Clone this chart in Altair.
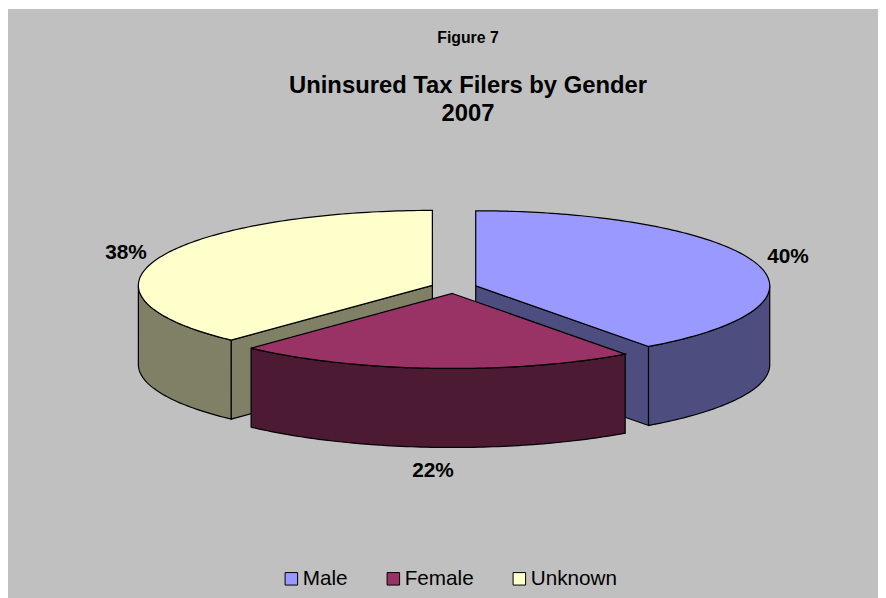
import numpy as np
import altair as alt

# values
categories = ["Male", "Female", "Unknown"]
shares = [40, 22, 38]
share_labels = ["40%", "22%", "38%"]
top_colors = ["#9999ff", "#993366", "#ffffcc"]
side_colors = ["#4d4d80", "#4d1a33", "#808066"]
figure_label = "Figure 7"
title_lines = ["Uninsured Tax Filers by Gender", "2007"]

# projection of the tilted pie (plot-area pixels through an identity projection)
CX, CY, RX, RY, DEPTH, EXPLODE = 445.8, 278.6, 294.0, 75.0, 79.0, 0.0784
STEP = 1.0


def rim(a0, a1, c):
    ang = np.radians(np.arange(a0, a1, STEP).tolist() + [a1])
    return [[float(c[0] + RX * np.sin(a)), float(c[1] - RY * np.cos(a))] for a in ang]


def drop(points):
    return [[p[0], p[1] + DEPTH] for p in points]


def feature(part, ring):
    ring = ring + [ring[0]]
    return {
        "type": "Feature",
        "properties": {"part": part},
        "geometry": {"type": "Polygon", "coordinates": [ring]},
    }


edges = np.concatenate([[0], np.cumsum(shares)]) / np.sum(shares) * 360.0
mids = (edges[:-1] + edges[1:]) / 2
centres = [
    (CX + EXPLODE * RX * np.sin(np.radians(m)), CY - EXPLODE * RY * np.cos(np.radians(m)))
    for m in mids
]

slices = {}
for i, name in enumerate(categories):
    a0, a1, c = edges[i], edges[i + 1], centres[i]
    slices[name] = dict(a0=float(a0), a1=float(a1), c=[float(c[0]), float(c[1])])


def top(name):
    s = slices[name]
    return feature(name, [s["c"]] + rim(s["a0"], s["a1"], s["c"]))


def wall(name, a0, a1):
    s = slices[name]
    r = rim(a0, a1, s["c"])
    return feature(name + " side", r + drop(r)[::-1])


def face(name, angle):
    s = slices[name]
    p = rim(angle, angle, s["c"])[0]
    return feature(name + " side", [s["c"], p, [p[0], p[1] + DEPTH], [s["c"][0], s["c"][1] + DEPTH]])


features = [
    face("Unknown", slices["Unknown"]["a0"]),
    wall("Unknown", slices["Unknown"]["a0"], 270.0),
    top("Unknown"),
    face("Male", slices["Male"]["a1"]),
    wall("Male", 90.0, slices["Male"]["a1"]),
    top("Male"),
    wall("Female", slices["Female"]["a0"], slices["Female"]["a1"]),
    top("Female"),
]

domain = categories + [c + " side" for c in categories]
pie = (
    alt.Chart(alt.Data(values=features))
    .mark_geoshape(stroke="#000000", strokeWidth=1.2, strokeJoin="miter")
    .encode(
        fill=alt.Fill(
            "properties.part:N",
            scale=alt.Scale(domain=domain, range=top_colors + side_colors),
            legend=alt.Legend(
                values=categories,
                title=None,
                orient="none",
                legendX=273,
                legendY=559,
                direction="horizontal",
                columns=3,
                columnPadding=35,
                padding=0,
                symbolType="square",
                symbolSize=156,
                symbolStrokeColor="#000000",
                symbolStrokeWidth=1,
                labelFont="Liberation Sans",
                labelFontSize=20.7,
                labelColor="#000000",
                labelOffset=1,
            ),
        )
    )
    .project(type="identity", scale=1, translate=[0, 0])
)


def text(label, x, y, size):
    return (
        alt.Chart(alt.Data(values=[{"t": label}]))
        .mark_text(font="Liberation Sans", fontWeight="bold", fontSize=size, color="#000000", align="center", baseline="middle")
        .encode(text="t:N", x=alt.value(x), y=alt.value(y))
    )


label_pos = [(780, 248), (425, 462), (118, 244)]
layers = [pie, text(figure_label, 460, 29, 15.8), text(title_lines[0], 460, 77, 23.8), text(title_lines[1], 460, 105, 23.8)]
layers += [text(l, p[0], p[1], 20.8) for l, p in zip(share_labels, label_pos)]

chart = (
    alt.layer(*layers)
    .properties(width=870, height=589, padding={"left": 0, "top": 1, "right": 0, "bottom": 0}, autosize=alt.AutoSizeParams(type="none"))
    .configure_view(fill="#c0c0c0", stroke=None)
)
chart.save("out.html", embed_options={"renderer": "svg", "actions": False})
